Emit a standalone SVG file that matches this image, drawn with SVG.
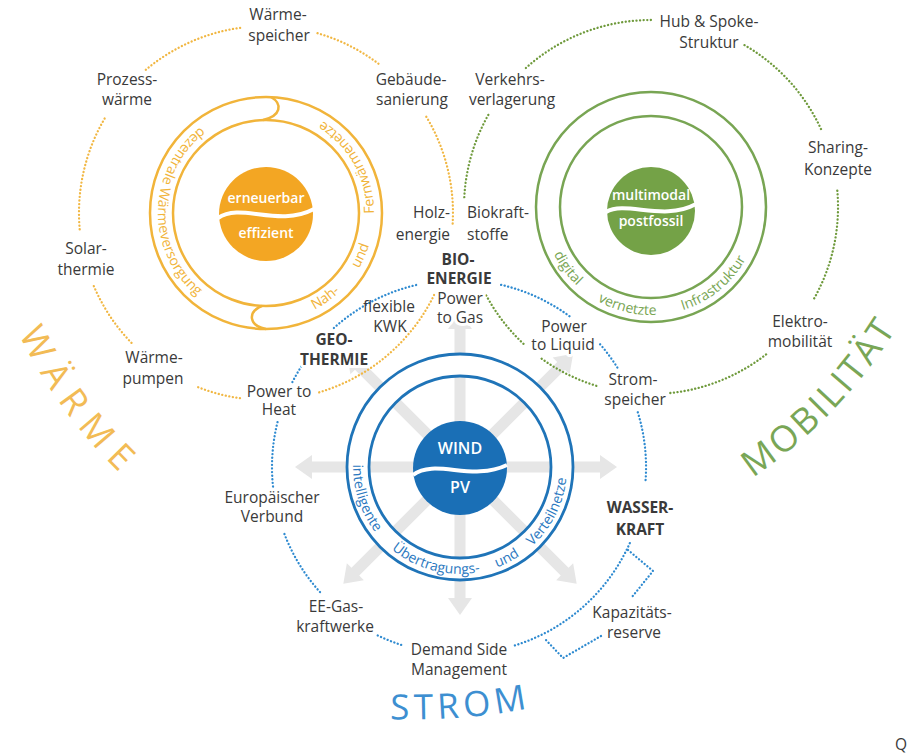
<svg xmlns="http://www.w3.org/2000/svg" width="908" height="755" viewBox="0 0 908 755">
<style>
text { font-family: "Open Sans", "Noto Sans", "DejaVu Sans", sans-serif; }
.lbl { font-size: 15.5px; fill: #3a3a3a; text-anchor: middle; }
.b { font-weight: 700; }
.halo { stroke: #ffffff; stroke-width: 6; stroke-linejoin: round; paint-order: stroke; }
.dot { fill: none; stroke-width: 2.3; stroke-linecap: round; stroke-dasharray: 0.1 3.5; }
.do { stroke: #f1b743; }
.dg { stroke: #6f9a3c; }
.db { stroke: #2e8ad0; }
.arrow { fill: #e6e6e6; }
.band { fill: none; stroke: #ffffff; }
.ringO { fill: none; stroke: #f1b43a; stroke-width: 2.5; }
.ringG { fill: none; stroke: #78a553; stroke-width: 2.5; }
.ringB { fill: none; stroke: #1f74b8; stroke-width: 2.8; }
.wave { fill: none; stroke: #ffffff; stroke-width: 4; }
.core { font-size: 14px; font-weight: 600; fill: #ffffff; text-anchor: middle; }
.bandO { font-size: 14px; fill: #f1b43a; }
.bandG { font-size: 14px; fill: #78a553; }
.bandB { font-size: 14px; fill: #2a78c0; }
.big { font-size: 36px; font-weight: 400; }
</style>
<defs>
<path id="pO_left" d="M205.6,123.5 A108 108 0 0 0 212,306.5"/>
<path id="pO_right" d="M309.9,311.7 A108 108 0 0 0 309.9,114.3"/>
<path id="pG" d="M549.5,243.9 A108 108 0 0 0 752.5,243.9"/>
<path id="pB" d="M353.4,457.7 A107 107 0 1 0 566.6,457.7"/>
<path id="pWaerme" d="M18,332 A500 500 0 0 0 124,477"/>
<path id="pMob" d="M751,479 A500 500 0 0 0 900,323"/>
<path id="pStrom" d="M388,719 A600 600 0 0 0 535,707"/>
</defs>
<rect x="0" y="0" width="908" height="755" fill="#ffffff"/>

<!-- grey arrows from the Strom core -->
<g id="strom-arrows">
<path class="arrow" d="M0,-5.5 H140 V-12 L157,0 L140,12 V5.5 H0 Z" transform="translate(460,467) rotate(0)"/>
<path class="arrow" d="M0,-5.5 H148 V-12 L165,0 L148,12 V5.5 H0 Z" transform="translate(460,467) rotate(45)"/>
<path class="arrow" d="M0,-5.5 H131 V-12 L148,0 L131,12 V5.5 H0 Z" transform="translate(460,467) rotate(90)"/>
<path class="arrow" d="M0,-5.5 H148 V-12 L165,0 L148,12 V5.5 H0 Z" transform="translate(460,467) rotate(135)"/>
<path class="arrow" d="M0,-5.5 H148 V-12 L165,0 L148,12 V5.5 H0 Z" transform="translate(460,467) rotate(180)"/>
<path class="arrow" d="M0,-5.5 H143 V-12 L160,0 L143,12 V5.5 H0 Z" transform="translate(460,467) rotate(225)"/>
<path class="arrow" d="M0,-5.5 H138 V-12 L155,0 L138,12 V5.5 H0 Z" transform="translate(460,467) rotate(270)"/>
<path class="arrow" d="M0,-5.5 H143 V-12 L160,0 L143,12 V5.5 H0 Z" transform="translate(460,467) rotate(315)"/>
</g>

<!-- dotted connectors -->
<g id="connectors">
<path class="dot do" d="M145.8,69.8 A187 187 0 0 1 243.2,27.4"/>
<path class="dot do" d="M317.5,33.2 A187 187 0 0 1 378.5,63.7"/>
<path class="dot do" d="M426.3,116.7 A187 187 0 0 1 452.5,226"/>
<path class="dot do" d="M434.1,295 A187 187 0 0 1 317.5,392.8"/>
<path class="dot do" d="M240,398.2 A187 187 0 0 1 196,386.4"/>
<path class="dot do" d="M131.5,342.9 A187 187 0 0 1 92.6,283.1"/>
<path class="dot do" d="M79.7,229.3 A187 187 0 0 1 105.7,116.7"/>

<path class="dot dg" d="M525.9,68 A187 187 0 0 1 651,20"/>
<path class="dot dg" d="M744.5,45.1 A187 187 0 0 1 821.8,130.9"/>
<path class="dot dg" d="M837.3,190.7 A187 187 0 0 1 813,300.5"/>
<path class="dot dg" d="M766.1,354.4 A187 187 0 0 1 667.3,393.3"/>
<path class="dot dg" d="M596.3,385.8 A187 187 0 0 1 541.1,358.3"/>
<path class="dot dg" d="M523.5,343.8 A187 187 0 0 1 485.9,294.8"/>
<path class="dot dg" d="M464.3,197.2 A187 187 0 0 1 489.1,113.5"/>

<path class="dot db" d="M273,486.5 A187 187 0 0 1 277.6,421.8"/>
<path class="dot db" d="M320,592.1 A187 187 0 0 1 283.3,531"/>
<path class="dot db" d="M401.2,644.9 A187 187 0 0 1 377,635.1"/>
<path class="dot db" d="M629.8,543.1 A187 187 0 0 1 513.7,645.8"/>
<path class="dot db" d="M637.8,412.3 A187 187 0 0 1 645.6,480.1"/>
<path class="dot db" d="M600.1,344.3 A187 187 0 0 1 617.6,367.9"/>
<path class="dot db" d="M501.1,284.8 A187 187 0 0 1 571.5,317.7"/>
<path class="dot db" d="M333.9,328 A187 187 0 0 1 416.9,284.8"/>
<path class="dot db" d="M292.4,382.1 A187 187 0 0 1 304,362.4"/>
<path class="dot db" d="M628,550 L653,571 L632,597"/>
<path class="dot db" d="M601,636 L563,658 L545,639"/>
</g>

<!-- Waerme system -->
<g id="waerme-system">
<circle class="ringO" cx="266" cy="213" r="116"/>
<circle class="ringO" cx="266" cy="213" r="93"/>
<path class="ringO" d="M271,97 C283,104 281,116 263,120"/>
<path class="ringO" d="M262,306 C247,312 249,326 266,329"/>
<circle cx="266" cy="214" r="47" fill="#f3a623"/>
<path class="wave" d="M-48,4 C-25,-12 12,14 48,-5" transform="translate(266,214)"/>
<text class="core" x="266" y="203">erneuerbar</text>
<text class="core" x="266" y="238">effizient</text>
<text class="bandO"><textPath href="#pO_left" startOffset="6">dezentrale Wärmeversorgung</textPath></text>
<text class="bandO"><textPath href="#pO_right" startOffset="5">Nah-</textPath></text>
<text class="bandO"><textPath href="#pO_right" startOffset="66">und</textPath></text>
<text class="bandO"><textPath href="#pO_right" startOffset="124">Fernwärmenetze</textPath></text>
</g>

<!-- Mobilitaet system -->
<g id="mobilitaet-system">
<circle class="ringG" cx="651" cy="207" r="115"/>
<circle class="ringG" cx="651" cy="207" r="91"/>
<circle cx="651" cy="211" r="44" fill="#74a247"/>
<path class="wave" d="M-45,2 C-25,-10 12,12 45,-6" transform="translate(651,210)"/>
<text class="core" x="651" y="200">multimodal</text>
<text class="core" x="651" y="226">postfossil</text>
<text class="bandG"><textPath href="#pG" startOffset="11">digital</textPath></text>
<text class="bandG"><textPath href="#pG" startOffset="76">vernetzte</textPath></text>
<text class="bandG"><textPath href="#pG" startOffset="164">Infrastruktur</textPath></text>
</g>

<!-- Strom system -->
<g id="strom-system">
<circle class="band" cx="460" cy="467" r="102" stroke-width="22"/>
<circle class="ringB" cx="460" cy="467" r="113"/>
<circle class="ringB" cx="460" cy="467" r="91"/>
<circle cx="460" cy="468" r="47" fill="#1a6fb6"/>
<path class="wave" d="M-47,7 C-25,-10 12,14 47,-3" transform="translate(460,468)"/>
<text class="core" x="460" y="454" style="font-size:16px">WIND</text>
<text class="core" x="460" y="493" style="font-size:16px">PV</text>
<text class="bandB"><textPath href="#pB" startOffset="7">intelligente</textPath></text>
<text class="bandB"><textPath href="#pB" startOffset="103">Übertragungs-</textPath></text>
<text class="bandB"><textPath href="#pB" startOffset="215">und</textPath></text>
<text class="bandB"><textPath href="#pB" startOffset="256">Verteilnetze</textPath></text>
</g>

<!-- sector titles -->
<g id="title-waerme"><text class="big" fill="#f2bb55"><textPath href="#pWaerme" startOffset="2" textLength="172" lengthAdjust="spacing">WÄRME</textPath></text></g>
<g id="title-mobilitaet"><text class="big" fill="#79a656"><textPath href="#pMob" startOffset="2" textLength="208" lengthAdjust="spacing">MOBILITÄT</textPath></text></g>
<g id="title-strom"><text class="big" fill="#3d8fd1" style="font-size:35px"><textPath href="#pStrom" startOffset="2" textLength="138" lengthAdjust="spacing">STROM</textPath></text></g>

<!-- labels -->
<g id="n-waermespeicher"><text class="lbl" x="278" y="20">Wärme-</text><text class="lbl" x="279" y="41">speicher</text></g>
<g id="n-prozesswaerme"><text class="lbl" x="127" y="85">Prozess-</text><text class="lbl" x="127" y="105">wärme</text></g>
<g id="n-gebaeudesanierung"><text class="lbl" x="411" y="85">Gebäude-</text><text class="lbl" x="412" y="105">sanierung</text></g>
<g id="n-hubspoke"><text class="lbl" x="709" y="27">Hub &amp; Spoke-</text><text class="lbl" x="709" y="48">Struktur</text></g>
<g id="n-verkehrsverlagerung"><text class="lbl" x="510" y="85">Verkehrs-</text><text class="lbl" x="512" y="105">verlagerung</text></g>
<g id="n-sharing"><text class="lbl" x="838" y="153">Sharing-</text><text class="lbl" x="838" y="175">Konzepte</text></g>
<g id="n-solarthermie"><text class="lbl" x="86" y="254">Solar-</text><text class="lbl" x="86" y="275">thermie</text></g>
<g id="n-waermepumpen"><text class="lbl" x="154" y="363">Wärme-</text><text class="lbl" x="153" y="384">pumpen</text></g>
<g id="n-powertoheat"><text class="lbl" x="279" y="397">Power to</text><text class="lbl" x="279" y="415">Heat</text></g>
<g id="n-holzenergie"><text class="lbl" x="450" y="218" style="text-anchor:end">Holz-</text><text class="lbl" x="450" y="240" style="text-anchor:end">energie</text></g>
<g id="n-biokraftstoffe"><text class="lbl" x="467" y="218" style="text-anchor:start">Biokraft-</text><text class="lbl" x="467" y="240" style="text-anchor:start">stoffe</text></g>
<g id="n-bioenergie"><text class="lbl b" x="458" y="265">BIO-</text><text class="lbl b" x="459" y="284">ENERGIE</text></g>
<g id="n-powertogas"><text class="lbl halo" x="460" y="304">Power</text><text class="lbl halo" x="460" y="323">to Gas</text></g>
<g id="n-flexiblekwk"><text class="lbl" x="389" y="312">flexible</text><text class="lbl" x="390" y="332">KWK</text></g>
<g id="n-geothermie"><text class="lbl b halo" x="334" y="345">GEO-</text><text class="lbl b halo" x="334" y="365">THERMIE</text></g>
<g id="n-powertoliquid"><text class="lbl halo" x="564" y="332">Power</text><text class="lbl halo" x="563" y="350">to Liquid</text></g>
<g id="n-stromspeicher"><text class="lbl" x="633" y="385">Strom-</text><text class="lbl" x="635" y="405">speicher</text></g>
<g id="n-elektromobilitaet"><text class="lbl" x="800" y="327">Elektro-</text><text class="lbl" x="800" y="347">mobilität</text></g>
<g id="n-europaeischerverbund"><text class="lbl" x="272" y="503">Europäischer</text><text class="lbl" x="272" y="522">Verbund</text></g>
<g id="n-eegaskraftwerke"><text class="lbl" x="336" y="612">EE-Gas-</text><text class="lbl" x="335" y="632">kraftwerke</text></g>
<g id="n-demandside"><text class="lbl" x="459" y="655">Demand Side</text><text class="lbl" x="459" y="675">Management</text></g>
<g id="n-wasserkraft"><text class="lbl b" x="640" y="513">WASSER-</text><text class="lbl b" x="640" y="535">KRAFT</text></g>
<g id="n-kapazitaetsreserve"><text class="lbl" x="632" y="618">Kapazitäts-</text><text class="lbl" x="634" y="638">reserve</text></g>
<g id="n-q"><text class="lbl" x="901" y="750">Q</text></g>
</svg>
